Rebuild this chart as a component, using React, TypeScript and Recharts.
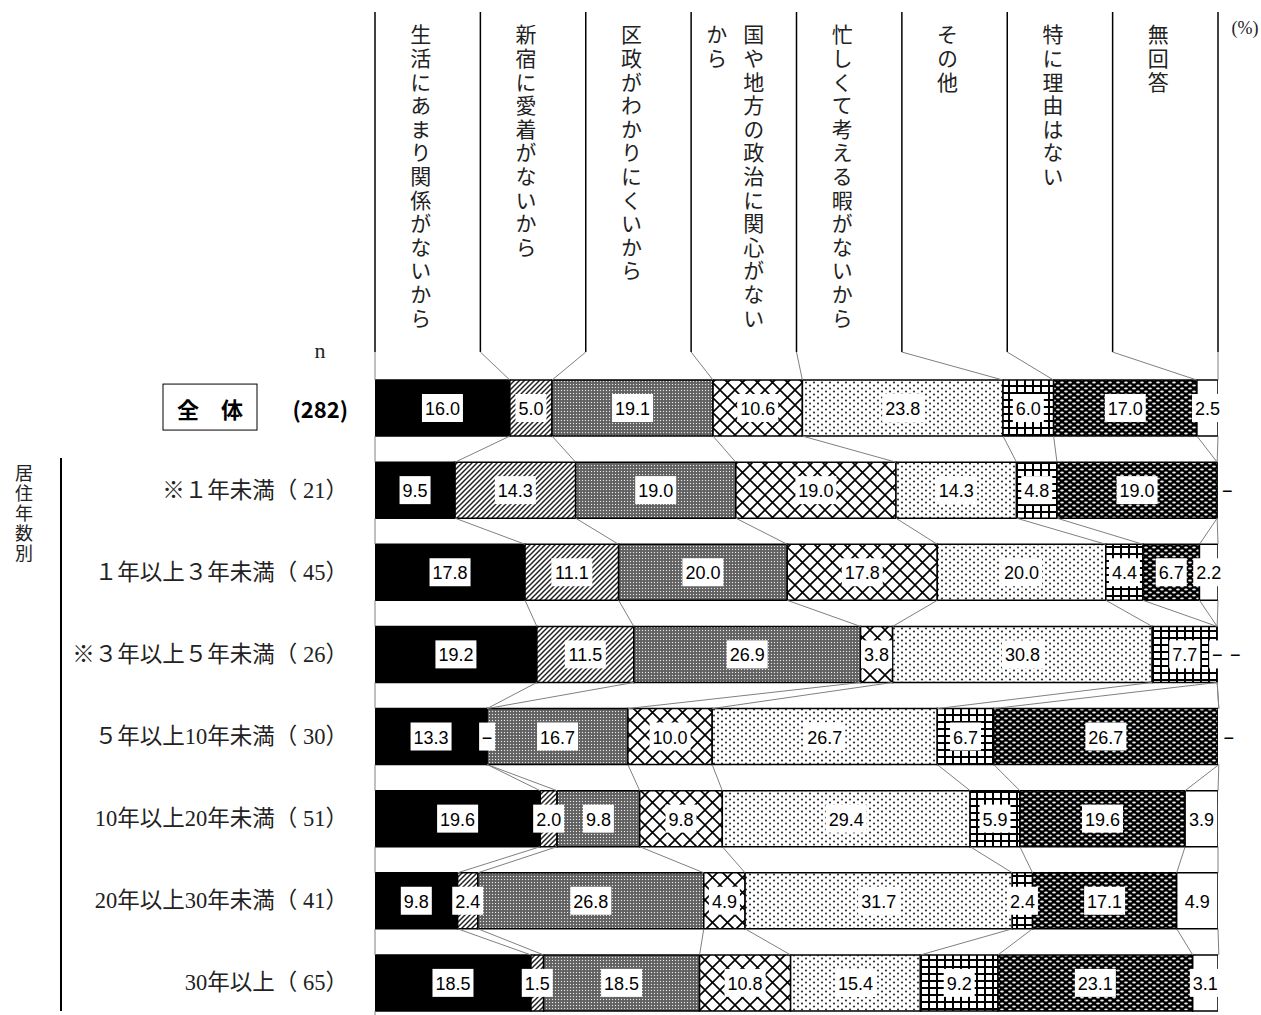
import React from 'react';
import { Bar, BarChart, Customized, LabelList, ReferenceDot, ReferenceLine, XAxis, YAxis } from 'recharts';

// 居住年数別 — 区政に関心がない理由
const rowNames = ['全　体', '※１年未満', '１年以上３年未満', '※３年以上５年未満', '５年以上10年未満', '10年以上20年未満', '20年以上30年未満', '30年以上'];
const rowN = [282, 21, 45, 26, 30, 51, 41, 65];

const seriesKeys = ['life', 'attach', 'ward', 'nation', 'busy', 'other', 'noReason', 'noAnswer'];
const seriesLabels = [
	['生活にあまり関係がないから'],
	['新宿に愛着がないから'],
	['区政がわかりにくいから'],
	['国や地方の政治に関心がない', 'から'],
	['忙しくて考える暇がないから'],
	['その他'],
	['特に理由はない'],
	['無回答'],
];

const life = [16.0, 9.5, 17.8, 19.2, 13.3, 19.6, 9.8, 18.5];
const attach = [5.0, 14.3, 11.1, 11.5, 0, 2.0, 2.4, 1.5];
const ward = [19.1, 19.0, 20.0, 26.9, 16.7, 9.8, 26.8, 18.5];
const nation = [10.6, 19.0, 17.8, 3.8, 10.0, 9.8, 4.9, 10.8];
const busy = [23.8, 14.3, 20.0, 30.8, 26.7, 29.4, 31.7, 15.4];
const other = [6.0, 4.8, 4.4, 7.7, 6.7, 5.9, 2.4, 9.2];
const noReason = [17.0, 19.0, 6.7, 0, 26.7, 19.6, 17.1, 23.1];
const noAnswer = [2.5, 0, 2.2, 0, 0, 3.9, 4.9, 3.1];

const series = [life, attach, ward, nation, busy, other, noReason, noAnswer];
const fills = ['#000', 'url(#pAttach)', 'url(#pWard)', 'url(#pNation)', 'url(#pBusy)', 'url(#pOther)', 'url(#pNoReason)', '#fff'];

const data = rowNames.map((name, i) => {
	const row: Record<string, any> = { name };
	seriesKeys.forEach((k, s) => (row[k] = series[s][i]));
	return row;
});

// cumulative boundaries per row, for the connector lines
const cum = rowNames.map((_, i) => {
	const out = [0];
	series.forEach((s) => out.push(Math.round((out[out.length - 1] + s[i]) * 10) / 10));
	return out;
});

// zero answers are shown as a dash; trailing ones are pushed right of the bar
const zeroMarks: { row: number; x: number; dx: number }[] = [];
rowNames.forEach((_, i) =>
	series.forEach((s, k) => {
		if (s[i] !== 0) return;
		const last = k === series.length - 1;
		zeroMarks.push({ row: i, x: cum[i][k], dx: last ? (series[k - 1][i] === 0 ? 18 : 10) : 0 });
	}),
);

const HALF = 28;
const HEADER_TOP = 12;
const LABEL_RIGHT = 348;
const JP = "'Noto Sans CJK JP', sans-serif";
const SERIF_JP = "'Liberation Serif', 'Noto Sans CJK JP', serif";
const NUM = "'Liberation Sans', Arial, sans-serif";

const textWidth = (s: string) => [...s].reduce((w, c) => w + (c === '.' ? 5 : 10), 0);

const valueLabel = (props: any) => {
	const vb = props.viewBox || {};
	const x = props.x ?? vb.x;
	const y = props.y ?? vb.y;
	const width = props.width ?? vb.width ?? 0;
	const height = props.height ?? vb.height ?? 0;
	let v = props.value;
	if (Array.isArray(v)) v = v[1] - v[0];
	v = Math.round(Number(v) * 10) / 10;
	if (!v) return null;
	const cx = x + width / 2;
	const cy = y + height / 2;
	const txt = v.toFixed(1);
	const w = textWidth(txt) + 6;
	return (
		<g>
			<rect x={cx - w / 2} y={cy - 14} width={w} height={28} fill="#fff" />
			<text x={cx} y={cy + 1} textAnchor="middle" dominantBaseline="central" fontSize={18} fontFamily={NUM} fill="#000">
				{txt}
			</text>
		</g>
	);
};

const dashMark = (dx: number) => (p: any) => (
	<g>
		<rect x={p.cx + dx - 8} y={p.cy - 14} width={16} height={28} fill="#fff" />
		<text x={p.cx + dx} y={p.cy + 1} textAnchor="middle" dominantBaseline="central" fontSize={18} fontFamily={NUM} fill="#000">
			−
		</text>
	</g>
);

const RowTick = (props: any) => {
	const { y, payload } = props;
	const i = rowNames.indexOf(payload.value);
	if (i === 0) {
		return (
			<g>
				<rect x={163} y={y - 24} width={94} height={46} fill="#fff" stroke="#000" strokeWidth={1} />
				<text x={210} y={y} textAnchor="middle" dominantBaseline="central" fontSize={22} fontWeight={700} fontFamily={JP} fill="#000">
					{rowNames[0]}
				</text>
				<text x={LABEL_RIGHT} y={y} textAnchor="end" dominantBaseline="central" fontSize={22} fontWeight={700} fontFamily={JP} fill="#000">
					({rowN[0]})
				</text>
			</g>
		);
	}
	return (
		<text x={LABEL_RIGHT} y={y} textAnchor="end" dominantBaseline="central" fontSize={22.5} fontFamily={SERIF_JP} fill="#222">
			{`${rowNames[i]}（ ${rowN[i]}）`}
		</text>
	);
};

const vertical = { writingMode: 'vertical-rl' as const };

const HeaderColumn = (k: number) => (p: any) => {
	const { x1, x2, y1 } = p;
	const top = y1 - 2 * HALF;
	const cx = (x1 + x2) / 2;
	const lines = seriesLabels[k];
	return (
		<g>
			<line x1={x1} y1={HEADER_TOP} x2={x1} y2={top} stroke="#000" strokeWidth={1.5} />
			{k === seriesLabels.length - 1 && <line x1={x2} y1={HEADER_TOP} x2={x2} y2={top} stroke="#000" strokeWidth={1.5} />}
			{lines.map((ln, j) => (
				<text
					key={j}
					x={cx + (lines.length > 1 ? (j === 0 ? 10 : -27) : -7)}
					y={24}
					style={vertical}
					letterSpacing={2.6}
					fontSize={21}
					fontFamily={JP}
					fill="#222"
				>
					{ln}
				</text>
			))}
		</g>
	);
};

const headerConnector = (p: any) => (
	<line x1={p.x1} y1={p.y1 - 2 * HALF} x2={p.x2} y2={p.y2 - HALF} stroke="#808080" strokeWidth={1} />
);

const rowConnector = (p: any) => (
	<line x1={p.x1} y1={p.y1 + HALF} x2={p.x2} y2={p.y2 - HALF} stroke="#808080" strokeWidth={1} />
);

const tailLine = (p: any) => <line x1={p.x1} y1={p.y1 + HALF} x2={p.x1} y2={p.y1 + HALF + 14} stroke="#808080" strokeWidth={1} />;

const Decor = () => (
	<g>
		<text x={320} y={350} textAnchor="middle" dominantBaseline="central" fontSize={22} fontFamily={SERIF_JP} fill="#222">
			n
		</text>
		<text x={1245} y={28} textAnchor="middle" dominantBaseline="central" fontSize={18} fontFamily={SERIF_JP} fill="#222">
			(%)
		</text>
		<line x1={61} y1={458} x2={61} y2={1011} stroke="#000" strokeWidth={2} />
		<text x={24} y={464} style={vertical} letterSpacing={2} fontSize={18} fontFamily={JP} fill="#222">
			居住年数別
		</text>
	</g>
);

export default function App() {
	return (
		<div style={{ width: 1261, height: 1015, background: '#fff', overflow: 'hidden' }}>
			<style>{'body{margin:0;background:#fff}'}</style>
			<BarChart width={1261} height={1024} data={data} layout="vertical" barSize={56} margin={{ top: 367, right: 43, bottom: 0, left: 0 }}>
				<defs>
					<pattern id="pAttach" width={5} height={5} patternUnits="userSpaceOnUse">
						<rect width={5} height={5} fill="#fff" />
						<path d="M0,5 L5,0 M-1,1 L1,-1 M4,6 L6,4" stroke="#222" strokeWidth={1.5} />
					</pattern>
					<pattern id="pWard" width={3} height={3} patternUnits="userSpaceOnUse">
						<rect width={3} height={3} fill="#6a6a6a" />
						<rect width={1} height={1} fill="#e8e8e8" />
						<rect x={1.5} y={1.5} width={1} height={1} fill="#444" />
					</pattern>
					<pattern id="pNation" width={15} height={15} patternUnits="userSpaceOnUse">
						<rect width={15} height={15} fill="#fff" />
						<path d="M0,0 L15,15 M15,0 L0,15" stroke="#000" strokeWidth={1.6} />
					</pattern>
					<pattern id="pBusy" width={8} height={6} patternUnits="userSpaceOnUse">
						<rect width={8} height={6} fill="#fff" />
						<circle cx={2} cy={1.5} r={1.1} fill="#333" />
						<circle cx={6} cy={4.5} r={1.1} fill="#333" />
					</pattern>
					<pattern id="pOther" width={8} height={7} patternUnits="userSpaceOnUse">
						<rect width={8} height={7} fill="#fff" />
						<rect x={0} y={0} width={2} height={7} fill="#000" />
						<rect x={0} y={0} width={8} height={2} fill="#000" />
					</pattern>
					<pattern id="pNoReason" width={8} height={6} patternUnits="userSpaceOnUse">
						<rect width={8} height={6} fill="#000" />
						<ellipse cx={2} cy={1.5} rx={1.9} ry={0.9} fill="#eee" />
						<ellipse cx={6} cy={4.5} rx={1.9} ry={0.9} fill="#eee" />
					</pattern>
				</defs>
				<XAxis type="number" domain={[0, 100]} allowDataOverflow hide />
				<YAxis type="category" dataKey="name" width={375} axisLine={false} tickLine={false} interval={0} tick={<RowTick />} />
				{seriesKeys.map((k, s) => (
					<Bar key={k} dataKey={k} stackId="a" fill={fills[s]} stroke="#000" strokeWidth={1.5} isAnimationActive={false}>
						<LabelList dataKey={k} content={valueLabel} />
					</Bar>
				))}
				{seriesLabels.map((_, k) => (
					<ReferenceLine
						key={`hc-${k}`}
						ifOverflow="visible"
						segment={[{ x: 12.5 * k, y: rowNames[0] }, { x: 12.5 * (k + 1), y: rowNames[0] }]}
						shape={HeaderColumn(k)}
					/>
				))}
				{cum[0].map((c, k) => (
					<ReferenceLine
						key={`hl-${k}`}
						ifOverflow="visible"
						segment={[{ x: 12.5 * k, y: rowNames[0] }, { x: c, y: rowNames[0] }]}
						shape={headerConnector}
					/>
				))}
				{rowNames.slice(0, -1).map((_, i) =>
					cum[i].map((c, k) => (
						<ReferenceLine
							key={`rl-${i}-${k}`}
							ifOverflow="visible"
							segment={[{ x: c, y: rowNames[i] }, { x: cum[i + 1][k], y: rowNames[i + 1] }]}
							shape={rowConnector}
						/>
					)),
				)}
				<ReferenceLine
					ifOverflow="visible"
					segment={[{ x: 0, y: rowNames[7] }, { x: 0, y: rowNames[7] }]}
					shape={tailLine}
				/>
				{zeroMarks.map((z, n) => (
					<ReferenceDot key={`z-${n}`} x={z.x} y={rowNames[z.row]} r={1} ifOverflow="visible" shape={dashMark(z.dx)} />
				))}
				<Customized component={<Decor />} />
			</BarChart>
		</div>
	);
}
